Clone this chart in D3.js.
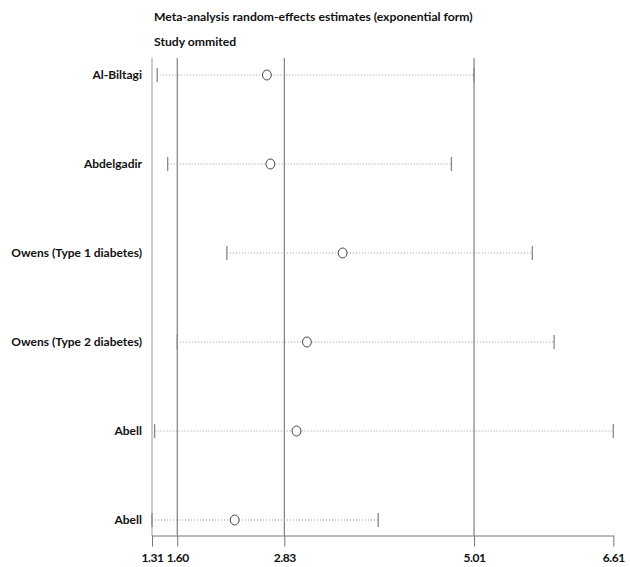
<!DOCTYPE html>
<html><head><meta charset="utf-8">
<script src="https://cdn.jsdelivr.net/npm/d3@7"></script>
<style>body{margin:0;background:#fff}svg{display:block}text{font-family:Lato,"Open Sans",sans-serif;font-weight:bold;fill:#111}</style>
</head><body><svg id="c" width="630" height="567"></svg>
<script>
const studies = ["Al-Biltagi","Abdelgadir","Owens (Type 1 diabetes)","Owens (Type 2 diabetes)","Abell","Abell"];
const estimates = [2.63, 2.67, 3.50, 3.09, 2.97, 2.26];
const lower = [1.37, 1.49, 2.17, 1.60, 1.34, 1.31];
const upper = [5.01, 4.75, 5.68, 5.93, 6.61, 3.91];
const tickValues = [1.31, 1.60, 2.83, 5.01, 6.61];
const refLines = [1.60, 2.83, 5.01];
const titleLines = ["Meta-analysis random-effects estimates (exponential form)", "Study ommited"];

const svg = d3.select("#c");
const x = d3.scaleLinear().domain([1.31, 6.61]).range([152, 613.3]);
const y = d3.scalePoint().domain(d3.range(studies.length)).range([75, 520]);
const plotTop = 58, axisY = 535.5;

svg.selectAll("text.title").data(titleLines).join("text").attr("class","title")
  .attr("x", 154).attr("y", (d,i)=> 21 + i*25).attr("font-size", 12.2).text(d=>d);

svg.append("line").attr("x1", x(1.31)).attr("x2", x(1.31)).attr("y1", plotTop).attr("y2", axisY)
  .attr("stroke", "#999").attr("stroke-width", 1);
svg.selectAll("line.ref").data(refLines).join("line").attr("class","ref")
  .attr("x1", d=>x(d)).attr("x2", d=>x(d)).attr("y1", plotTop).attr("y2", axisY)
  .attr("stroke", "#666").attr("stroke-width", 1);

const rows = svg.selectAll("g.row").data(studies).join("g").attr("class","row")
  .attr("transform", (d,i)=>`translate(0,${y(i)})`);
rows.append("line").attr("x1",(d,i)=>x(lower[i])).attr("x2",(d,i)=>x(upper[i]))
  .attr("stroke","#999").attr("stroke-width",1).attr("stroke-dasharray","1,2");
rows.append("line").attr("x1",(d,i)=>x(lower[i])).attr("x2",(d,i)=>x(lower[i]))
  .attr("y1",-7).attr("y2",7).attr("stroke","#888").attr("stroke-width",1.3);
rows.append("line").attr("x1",(d,i)=>x(upper[i])).attr("x2",(d,i)=>x(upper[i]))
  .attr("y1",-7).attr("y2",7).attr("stroke","#888").attr("stroke-width",1.3);
rows.append("ellipse").attr("cx",(d,i)=>x(estimates[i])).attr("cy",0).attr("rx",4.4).attr("ry",5)
  .attr("fill","#fff").attr("stroke","#333").attr("stroke-width",0.9);
rows.append("text").attr("x",142).attr("y",0).attr("dy","0.35em").attr("text-anchor","end")
  .attr("font-size",12).text(d=>d);

const axis = d3.axisBottom(x).tickValues(tickValues).tickFormat(d3.format(".2f")).tickSize(11).tickSizeOuter(0);
const ag = svg.append("g").attr("transform",`translate(0,${axisY})`).call(axis);
ag.select(".domain").attr("stroke","#777");
ag.selectAll(".tick line").attr("stroke","#777");
ag.selectAll(".tick text").attr("font-size",12).attr("letter-spacing","-0.4px").attr("font-family","Lato, sans-serif").attr("font-weight","bold").attr("fill","#111").attr("dy","1.05em");
</script></body></html>
